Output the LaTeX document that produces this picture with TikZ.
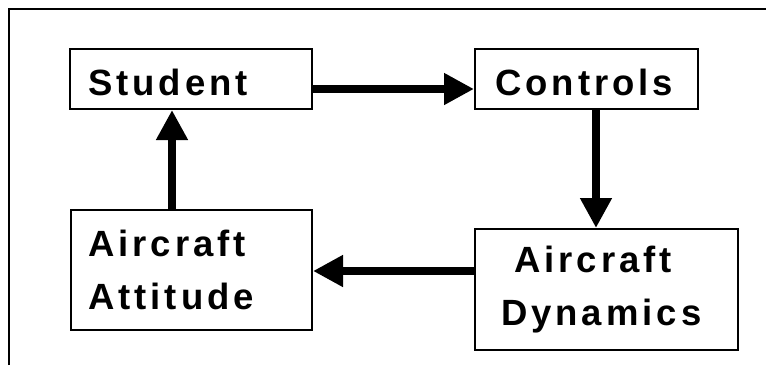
\documentclass[tikz,border=0pt]{standalone}
\usepackage{fontspec}
\usetikzlibrary{arrows.meta}
\newfontfamily\lblfont[LetterSpace=11]{Liberation Sans}
\tikzset{
  block/.style={draw=black, line width=2pt, fill=white, rectangle,
    font=\lblfont\bfseries\fontsize{36.5}{53}\selectfont},
  oneline/.style={text height=32pt, text depth=0pt},
  flow/.style={line width=8pt, -{Triangle[length=30pt,width=30pt]}},
}
\begin{document}
\begin{tikzpicture}[x=1pt, y=-1pt]
  \useasboundingbox (0,0) rectangle (766,365);
  % outer frame (top and left edges)
  \draw[line width=1.6pt] (9,365) -- (9,9) -- (766,9);

  % blocks of the loop
  \node[block, oneline, minimum width=242pt, minimum height=60pt,
        text width=206pt, inner xsep=18pt, inner ysep=0pt, align=left]
        (stu) at (191,79) {Student};
  \node[block, oneline, minimum width=223pt, minimum height=60pt,
        text width=183pt, inner xsep=20pt, inner ysep=0pt, align=left]
        (ctl) at (586.5,79) {Controls};
  \node[block, minimum width=241pt, minimum height=120pt,
        text width=207pt, inner xsep=17pt, inner ysep=0pt, align=left]
        (att) at (191.5,270) {Aircraft\\Attitude};
  \node[block, minimum width=263pt, minimum height=121pt,
        text width=211pt, inner xsep=26pt, inner ysep=0pt, align=left]
        (dyn) at (606.5,289.5) {\hspace*{13pt}Aircraft\\Dynamics};

  % signal flow
  \draw[flow] (stu.east |- 0,89) -- (ctl.west |- 0,89);
  \draw[flow] (ctl.south -| 596,0) -- (dyn.north -| 596,0);
  \draw[flow] (dyn.west |- 0,271) -- (att.east |- 0,271);
  \draw[flow] (att.north -| 172,0) -- (stu.south -| 172,0);
\end{tikzpicture}
\end{document}
